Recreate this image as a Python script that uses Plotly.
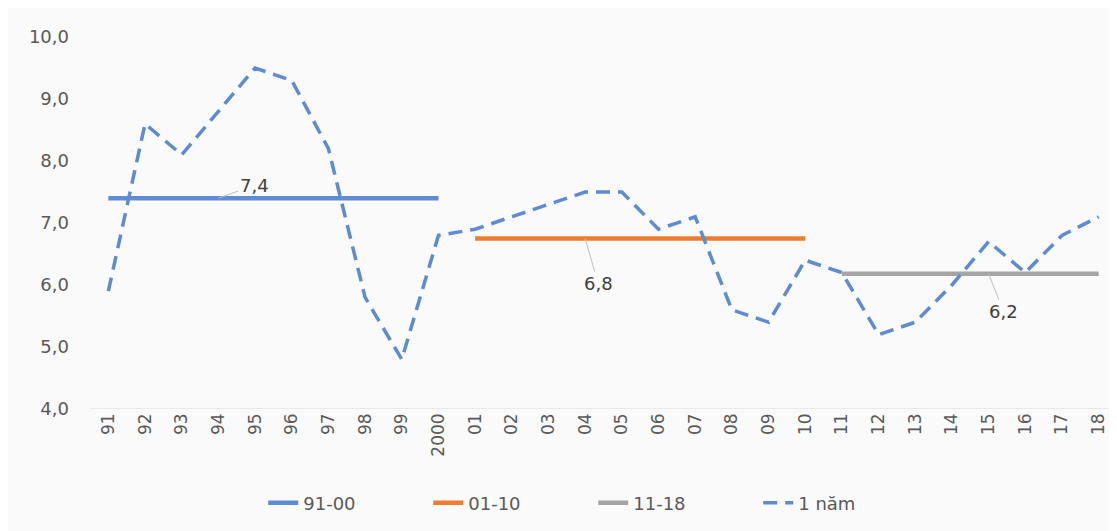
import plotly.graph_objects as go

# ---- data ----
years = ["91", "92", "93", "94", "95", "96", "97", "98", "99", "2000",
         "01", "02", "03", "04", "05", "06", "07", "08", "09", "10",
         "11", "12", "13", "14", "15", "16", "17", "18"]
growth_1y = [5.9, 8.6, 8.1, 8.8, 9.5, 9.3, 8.2, 5.8, 4.8, 6.8,
             6.9, 7.1, 7.3, 7.5, 7.5, 6.9, 7.1, 5.6, 5.4, 6.4,
             6.2, 5.2, 5.4, 6.0, 6.7, 6.2, 6.8, 7.1]
periods = ["91-00", "01-10", "11-18"]
period_avg = [7.4, 6.75, 6.18]
period_labels = ["7,4", "6,8", "6,2"]
period_years = [years[0:10], years[10:20], years[20:28]]
label_years = ["94", "04", "15"]
series_name_1y = "1 năm"

colors = ["#5f8bd3", "#ed7d31", "#a5a5a5"]
dash_color = "#5f8bd3"
font_fam = "DejaVu Sans"
txt_col = "#595959"

fig = go.Figure()
for name, avg, yrs, col in zip(periods, period_avg, period_years, colors):
    fig.add_trace(go.Scatter(
        x=yrs, y=[avg] * len(yrs), name=name, mode="lines",
        line=dict(color=col, width=4.5),
    ))

fig.add_trace(go.Scatter(
    x=years, y=growth_1y, name=series_name_1y, mode="lines",
    line=dict(color=dash_color, width=3.5, dash="14px,8px"),
))

# data labels for period averages with leader lines
offsets = [(36, -13), (13, 45), (15, 38)]
for xc, (ax, ay), avg, lab in zip(label_years, offsets, period_avg, period_labels):
    fig.add_annotation(
        x=years.index(xc), y=avg, text=lab, showarrow=True, arrowhead=0,
        arrowwidth=1, arrowcolor="#bfbfbf", ax=ax, ay=ay,
        font=dict(family=font_fam, size=18, color="#404040"),
    )

fig.update_layout(
    width=1109, height=523,
    margin=dict(l=82, r=0, t=29, b=122),
    paper_bgcolor="#fafafa", plot_bgcolor="#fafafa",
    separators=",.",
    showlegend=True,
    legend=dict(orientation="h", x=0.49, xanchor="center", y=-0.253,
                yanchor="middle", font=dict(family=font_fam, size=18, color=txt_col),
                bgcolor="rgba(0,0,0,0)", entrywidth=120, entrywidthmode="pixels"),
    xaxis=dict(type="category", categoryorder="array", categoryarray=years,
               range=[-0.5, 27.5], tickangle=-90, showgrid=False,
               showline=False, zeroline=False, ticks="",
               tickfont=dict(family=font_fam, size=17, color=txt_col)),
    yaxis=dict(range=[4, 10], dtick=1, tickformat=".1f", showgrid=False,
               zeroline=False, showline=False, ticks="", ticklabelstandoff=20,
               tickfont=dict(family=font_fam, size=18, color=txt_col)),
    shapes=[dict(type="line", xref="paper", yref="y", x0=0, x1=1, y0=4, y1=4,
                 line=dict(color="#d9d9d9", width=1), layer="below")],
)

fig.write_html("out.html")
